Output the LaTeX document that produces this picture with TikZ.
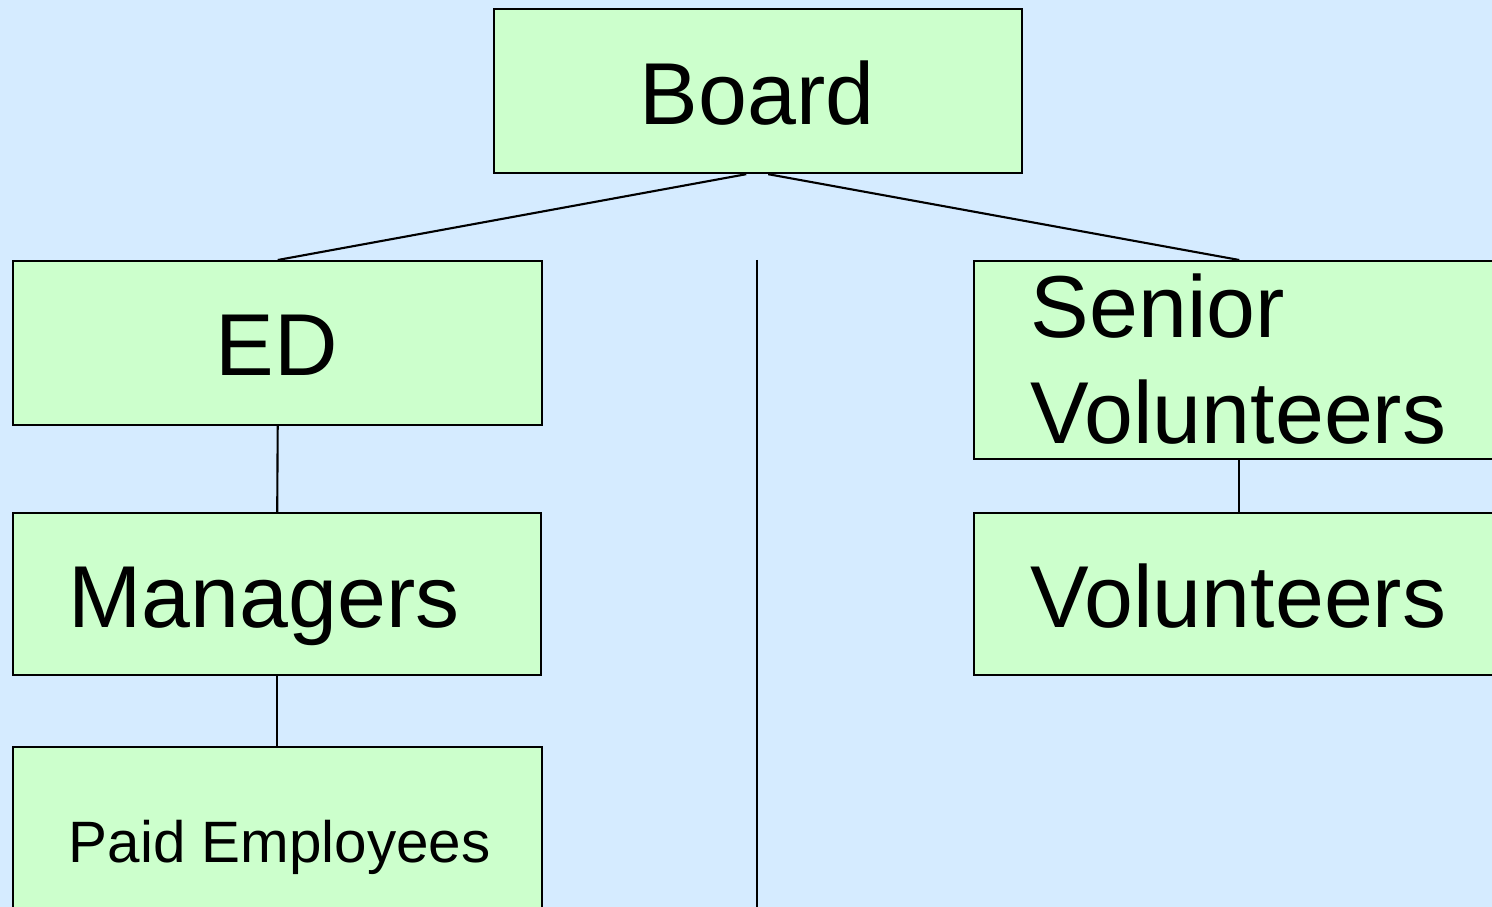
\documentclass[tikz,border=0pt]{standalone}
\usepackage{fontspec}
\setmainfont{Liberation Sans}
\usetikzlibrary{positioning,calc}

\definecolor{bgblue}{RGB}{213,235,255}
\definecolor{boxgreen}{RGB}{204,255,204}

\tikzset{
  orgbox/.style={draw=black,fill=boxgreen,line width=0.6pt,rectangle,
    anchor=north west,inner sep=0pt},
  bigtxt/.style={font=\fontsize{25}{30}\selectfont,inner sep=0pt,anchor=base west,align=left},
  smalltxt/.style={font=\fontsize{16.6}{20}\selectfont,inner sep=0pt,anchor=base west},
  orgline/.style={draw=black,line width=0.6pt}
}

\begin{document}
\begin{tikzpicture}[x=0.01cm,y=-0.01cm]
\useasboundingbox (0,0) rectangle (1492,907);
\fill[bgblue] (0,0) rectangle (1492,907);
\clip (0,0) rectangle (1492,907);
% boxes
\node[orgbox,minimum width=5.28cm,minimum height=1.64cm] (board) at (493,8) {};
\node[orgbox,minimum width=5.29cm,minimum height=1.64cm] (ed) at (12,260) {};
\node[orgbox,minimum width=5.28cm,minimum height=1.62cm] (mgr) at (12,512) {};
\node[orgbox,minimum width=5.29cm,minimum height=1.90cm] (paid) at (12,746) {};
\node[orgbox,minimum width=5.30cm,minimum height=1.98cm] (senior) at (973,260) {};
\node[orgbox,minimum width=5.30cm,minimum height=1.62cm] (vol) at (973,512) {};
% texts
\node[bigtxt,anchor=base] at (757,125) {Board};
\node[bigtxt,anchor=base] at (277,376) {ED};
\node[bigtxt] at (68,627) {Managers};
\node[smalltxt] at (68,862) {Paid Employees};
\node[bigtxt] at (1030,338) {Senior};
\node[bigtxt] at (1030,443) {Volunteers};
\node[bigtxt] at (1030,627) {Volunteers};
% connectors
\draw[orgline] ([xshift=-0.12cm]board.south) -- (ed.north);
\draw[orgline] ([xshift=0.10cm]board.south) -- (senior.north);
\draw[orgline] (ed.south) -- (mgr.north);
\draw[orgline] (mgr.south) -- (mgr.south |- paid.north);
\draw[orgline] (senior.south) -- (vol.north);
\coordinate (divtop) at (757,260);
\coordinate (divbot) at (757,907);
\draw[orgline] (divtop) -- (divbot);
\end{tikzpicture}
\end{document}
